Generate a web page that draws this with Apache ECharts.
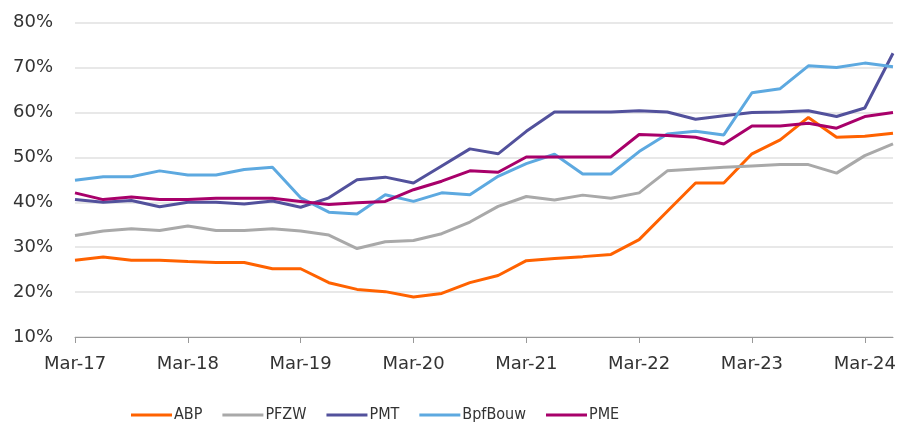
<!DOCTYPE html>
<html lang="en">
<head>
    <meta charset="UTF-8">
    <title>Pension funds</title>
    <script src="https://cdn.jsdelivr.net/npm/echarts@6/dist/echarts.min.js"></script>
    <style>
        html, body { margin: 0; padding: 0; background: #fff; }
    </style>
</head>
<body>
<div id="chartmain" style="width:911px; height:425px;"></div>
<script type="text/javascript">

    // quarters Mar-17 .. Jun-24
    var quarters = ['Mar-17','Jun-17','Sep-17','Dec-17','Mar-18','Jun-18','Sep-18','Dec-18',
        'Mar-19','Jun-19','Sep-19','Dec-19','Mar-20','Jun-20','Sep-20','Dec-20',
        'Mar-21','Jun-21','Sep-21','Dec-21','Mar-22','Jun-22','Sep-22','Dec-22',
        'Mar-23','Jun-23','Sep-23','Dec-23','Mar-24','Jun-24'];

    var abp = [27.1,27.8,27.1,27.1,26.8,26.6,26.6,25.2,25.2,22.1,20.6,20.1,18.9,19.7,22.1,23.7,
        27.0,27.5,27.9,28.4,31.7,38.0,44.3,44.3,50.8,53.9,58.9,54.5,54.7,55.4];
    var pfzw = [32.6,33.6,34.1,33.7,34.7,33.7,33.7,34.1,33.6,32.7,29.7,31.2,31.5,33.0,35.6,39.1,
        41.3,40.5,41.6,40.9,42.1,47.0,47.4,47.8,48.1,48.4,48.4,46.5,50.4,53.0];
    var pmt = [40.6,40.0,40.4,39.0,40.0,40.0,39.6,40.3,38.9,41.0,45.0,45.6,44.3,48.1,51.9,50.8,
        55.8,60.1,60.1,60.1,60.4,60.1,58.5,59.3,60.0,60.1,60.4,59.1,61.0,73.2];
    var bpfbouw = [44.9,45.7,45.7,47.0,46.1,46.1,47.3,47.8,41.0,37.8,37.4,41.7,40.2,42.1,41.7,45.8,
        48.6,50.7,46.3,46.3,51.3,55.2,55.8,55.0,64.4,65.3,70.4,70.0,71.0,70.2];
    var pme = [42.1,40.6,41.2,40.6,40.6,40.9,40.9,40.9,40.2,39.5,39.9,40.2,42.8,44.7,47.0,46.7,
        50.1,50.1,50.1,50.1,55.1,54.9,54.5,53.0,57.0,57.0,57.6,56.5,59.1,60.0];

    var yTicks = [10, 20, 30, 40, 50, 60, 70, 80];

    var txtFont = 'DejaVu Sans';
    var legendFont = "'Liberation Sans Narrow', 'DejaVu Sans Condensed', sans-serif";

    function line(name, data, color) {
        return {
            name: name,
            type: 'line',
            data: data,
            symbol: 'none',
            smooth: false,
            lineStyle: { width: 3, color: color },
            itemStyle: { color: color }
        };
    }

    var option = {
        animation: false,
        backgroundColor: '#fff',
        grid: { left: 75, right: 18, top: 22.7, bottom: 88, containLabel: false },
        legend: {
            left: 131,
            top: 407,
            padding: 0,
            icon: 'rect',
            itemWidth: 41,
            itemHeight: 3,
            itemGap: 20,
            textStyle: { fontFamily: legendFont, fontSize: 16, color: '#333', padding: [0, 0, 0, -3] },
            data: ['ABP', 'PFZW', 'PMT', 'BpfBouw', 'PME']
        },
        xAxis: {
            type: 'category',
            data: quarters,
            boundaryGap: false,
            axisLine: { lineStyle: { color: '#999', width: 1 } },
            axisTick: { show: true, interval: 3, length: 6, lineStyle: { color: '#999' } },
            axisLabel: {
                interval: 3,
                margin: 18,
                fontFamily: txtFont,
                fontSize: 18,
                color: '#333'
            },
            splitLine: { show: false }
        },
        yAxis: {
            type: 'value',
            min: yTicks[0],
            max: yTicks[yTicks.length - 1],
            interval: 10,
            axisLine: { show: false },
            axisTick: { show: false },
            axisLabel: {
                margin: 22,
                fontFamily: txtFont,
                fontSize: 18,
                color: '#333',
                formatter: function (v) { return v + '%'; }
            },
            splitLine: { lineStyle: { color: '#e0e0e0', width: 1.5 } }
        },
        series: [
            line('ABP', abp, '#FF6200'),
            line('PFZW', pfzw, '#A9A9A9'),
            line('PMT', pmt, '#52519C'),
            line('BpfBouw', bpfbouw, '#5DA9E0'),
            line('PME', pme, '#A8006A')
        ]
    };

    var myChart = echarts.init(document.getElementById('chartmain'));
    myChart.setOption(option);

</script>
</body>
</html>
